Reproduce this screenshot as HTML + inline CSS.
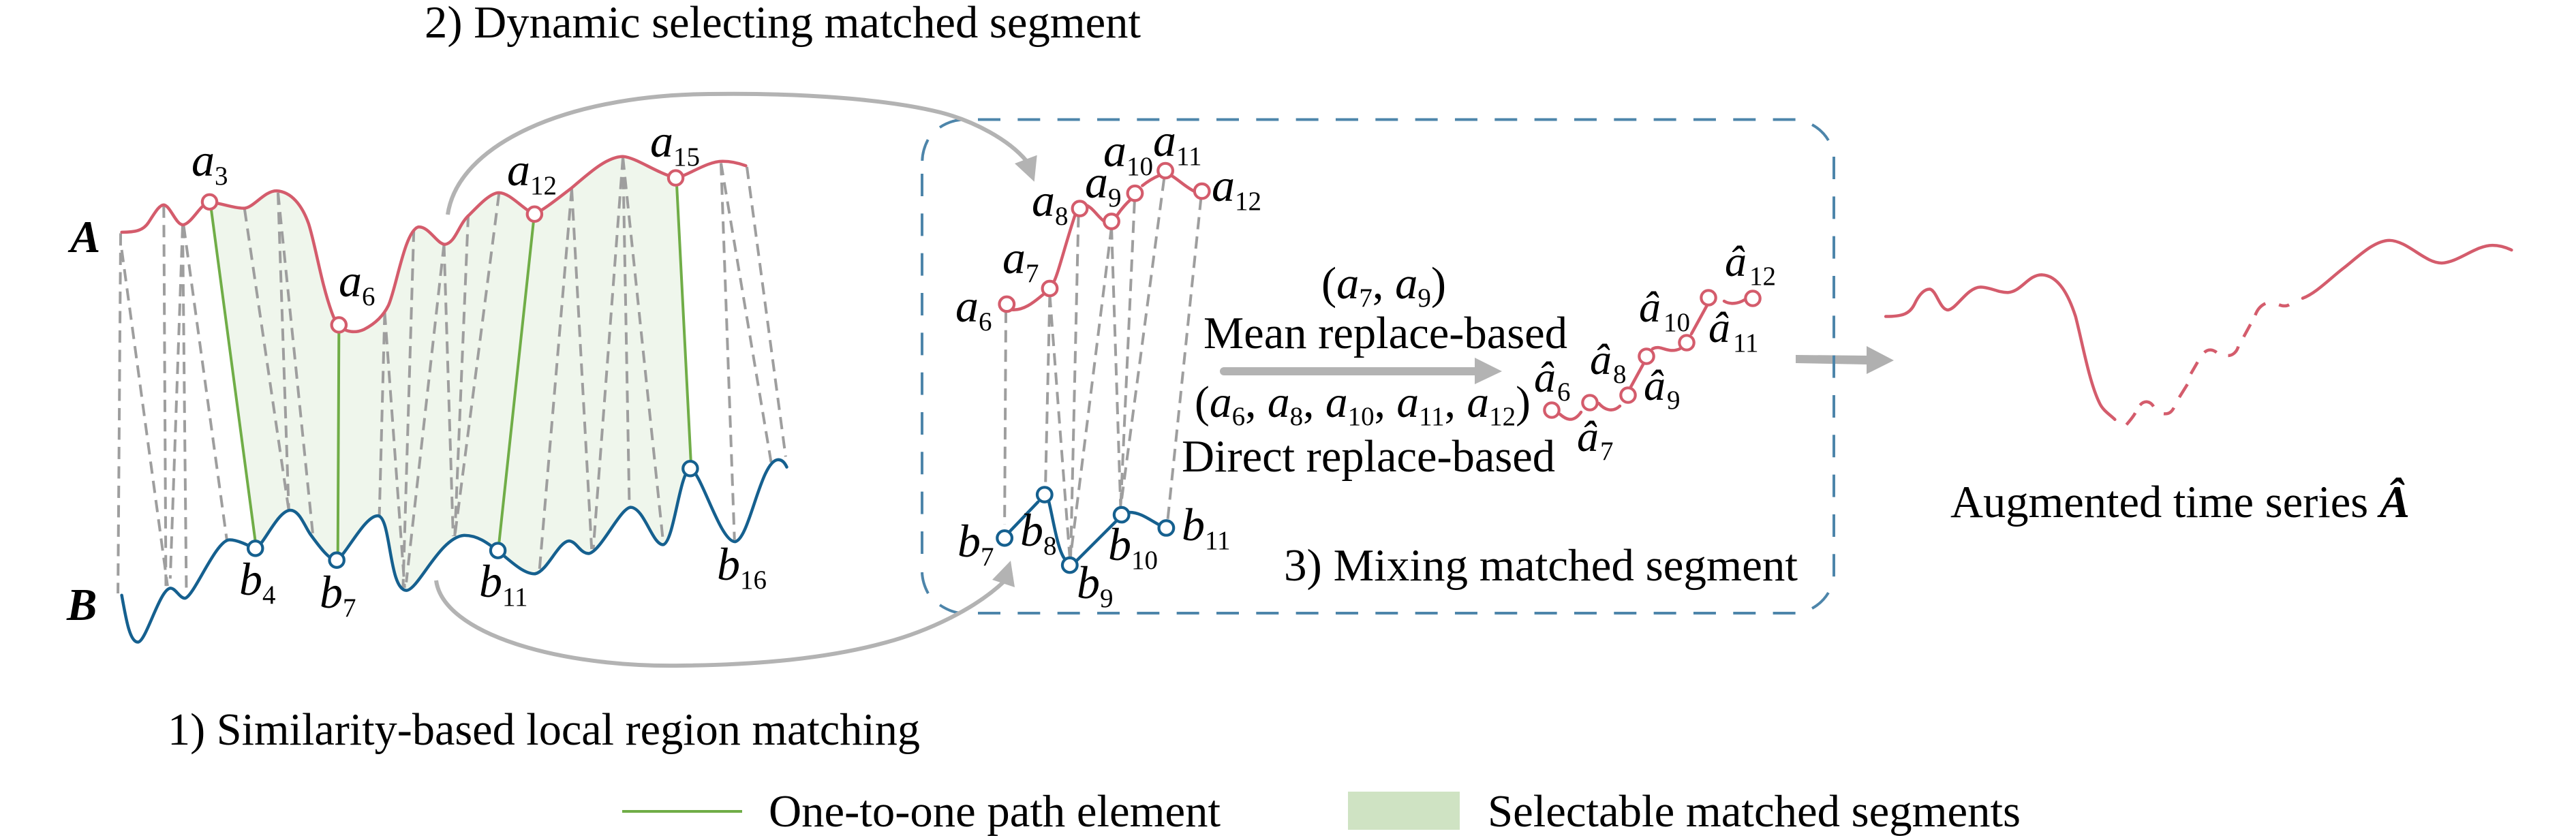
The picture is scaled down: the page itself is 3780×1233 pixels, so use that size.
<!DOCTYPE html>
<html><head><meta charset="utf-8"><style>
html,body{margin:0;padding:0;background:#fff;width:3780px;height:1233px;overflow:hidden}
svg{display:block}
text{font-family:"Liberation Serif",serif;fill:#000;font-size:66.5px}
.i{font-style:italic;font-size:68px}
.h{font-style:italic;font-size:64px}
.s{font-style:normal;font-size:39px}
.n{fill:#fff;stroke-width:4.2;vector-effect:non-scaling-stroke}
.m{fill:#fff;stroke-width:4.2}
.l{fill:none;stroke-width:4.5;stroke-linecap:round;vector-effect:non-scaling-stroke}
.d{fill:none;stroke:#9e9e9e;stroke-width:4;stroke-dasharray:18 10.5;vector-effect:non-scaling-stroke}
.g{fill:none;stroke:#70ad47;stroke-width:4;vector-effect:non-scaling-stroke}
.r{stroke:#d45c6c}.b{stroke:#15608f}
.box{fill:none;stroke:#4d85aa;stroke-width:4;stroke-dasharray:33 25.33}
.arc{fill:none;stroke:#b3b3b3;stroke-width:6}
</style></head><body>
<svg width="3780" height="1233" viewBox="0 0 3780 1233" xmlns="http://www.w3.org/2000/svg">

<!-- right thick arrow sits below the dashed box -->
<polygon fill="#b0b0b0" points="2635,521 2739,522 2739,508 2779,529 2739,549 2739,535 2635,533"/>

<!-- dashed box -->
<path class="box" d="M1435,175.5H2636"/>
<path class="box" d="M1435,900H2636"/>
<path class="box" d="M1353,255V814"/>
<path class="box" d="M2691,230V847"/>
<path class="box" style="stroke-dasharray:none" d="M1353.3,236C1353.5,224 1357,214 1361.7,205M1379,187C1388,181 1398,177 1410,175.7M1353,840C1353.5,852 1357,862 1362,871M1379,888C1388,894 1398,899 1410,900M2659,183C2670,189 2677,196 2683,206M2683,870C2677,880 2670,887 2659,893"/>

<!-- arcs -->
<path class="arc" d="M657,315C672,212 830,140 1040,138C1170,136 1300,145 1380,165C1430,178 1480,205 1506,236"/>
<polygon fill="#b3b3b3" points="1521.7,227.7 1489,240 1517.7,266.7"/>
<path class="arc" d="M640,852C650,930 820,980 1000,977C1120,976 1220,965 1300,943C1360,927 1430,895 1475,852"/>
<polygon fill="#b3b3b3" points="1483,823 1456,851 1489,862"/>

<!-- Left panel, crop coordinates -->
<g transform="translate(60,150) scale(.7908,.5421)">
<path fill="#eff6ec" d="M313,270C330,272 360,288 378,287C395,285 415,240 437,240C465,242 485,280 497,330C510,390 520,490 540,570C545,590 550,600 553,603C565,625 585,625 600,615C620,600 635,580 645,550C660,500 675,350 700,338C720,335 735,385 750,385C770,380 775,330 795,305C815,275 835,245 850,245C870,245 895,290 915,303C930,295 960,260 985,232C1015,195 1050,147 1080,147C1105,150 1140,190 1178,205L1205,992C1185,1000 1175,1190 1155,1198C1135,1200 1120,1100 1095,1097C1075,1097 1040,1215 1017,1222C1000,1222 995,1190 980,1188C960,1190 940,1270 917,1277C895,1278 870,1240 848,1215C830,1195 810,1172 785,1173C740,1178 700,1322 678,1322C645,1320 650,1120 625,1120C600,1120 565,1230 548,1240C535,1240 515,1200 500,1170C490,1150 480,1105 463,1105C440,1105 415,1195 398,1210Z"/>
<path class="d" d="M148,355L143,1330M150,400L235,1310M228,280L232,1310M263,335L240,1290M263,335L270,1330M265,335L345,1185M378,290L460,1105M440,245L460,1105M440,245L505,1175M638,570L628,1120M638,570L675,1315M692,345L672,1315M748,385L678,1300M748,385L765,1175M793,305L768,1175M850,248L768,1175M985,235L925,1270M985,235L1022,1210M1080,150L1025,1210M1080,150L1092,1095M1080,150L1155,1195M1262,165L1287,1185M1262,165L1355,975M1310,175L1382,960"/>
<path class="g" d="M316,290L398,1190M553,625L551,1220M914,325L850,1195M1180,228L1206,970"/>
<path class="l r" d="M150,352C175,352 190,348 200,325C212,298 220,278 228,278C240,280 250,330 263,332C275,332 290,295 300,282C305,275 310,272 313,270C330,272 360,288 378,287C395,285 415,240 437,240C465,242 485,280 497,330C510,390 520,490 540,570C545,590 550,600 553,603C565,625 585,625 600,615C620,600 635,580 645,550C660,500 675,350 700,338C720,335 735,385 750,385C770,380 775,330 795,305C815,275 835,245 850,245C870,245 895,290 915,303C930,295 960,260 985,232C1015,195 1050,147 1080,147C1105,150 1140,190 1178,205C1200,200 1235,160 1265,160C1280,160 1295,165 1308,172"/>
<path class="l b" d="M150,1335C158,1400 165,1462 180,1462C195,1462 220,1320 240,1316C250,1315 258,1345 268,1343C285,1335 325,1185 350,1185C365,1185 385,1200 398,1210C415,1195 440,1105 463,1105C480,1105 490,1150 500,1170C515,1200 535,1240 548,1240C565,1230 600,1120 625,1120C650,1120 645,1320 678,1322C700,1322 740,1178 785,1173C810,1172 830,1195 848,1215C870,1240 895,1278 917,1277C940,1270 960,1190 980,1188C995,1190 1000,1222 1017,1222C1040,1215 1075,1097 1095,1097C1120,1100 1135,1200 1155,1198C1175,1190 1185,1000 1205,992C1225,1000 1260,1190 1288,1190C1315,1185 1335,970 1368,968C1375,968 1380,975 1384,988"/>
<ellipse class="n r" cx="313" cy="270" rx="13.5" ry="19.7"/><ellipse class="n r" cx="553" cy="603" rx="13.5" ry="19.7"/><ellipse class="n r" cx="916" cy="303" rx="13.5" ry="19.7"/><ellipse class="n r" cx="1178" cy="205" rx="13.5" ry="19.7"/>
<ellipse class="n b" cx="398" cy="1208" rx="13.5" ry="19.7"/><ellipse class="n b" cx="549" cy="1240" rx="13.5" ry="19.7"/><ellipse class="n b" cx="848" cy="1214" rx="13.5" ry="19.7"/><ellipse class="n b" cx="1205" cy="992" rx="13.5" ry="19.7"/>
</g>

<!-- Middle panel -->
<g transform="translate(1300,150) scale(.6378,.5102)">
<path class="d" d="M276,600L273,1215M377,555L367,1105M377,555L423,1310M443,325L425,1310M519,360L425,1305M519,360L540,1165M572,285L540,1165M640,220L540,1165M725,275L648,1205"/>
<path class="l r" d="M290,597C320,600 345,570 365,550M385,520C395,500 410,420 435,325M458,295C475,300 490,335 505,345M532,325C540,310 550,295 563,280M590,240C600,230 615,218 630,210M658,212C675,225 690,245 712,258"/>
<path class="l b" d="M285,1235L350,1150M375,1150C385,1200 395,1290 412,1315M438,1320L530,1205M560,1180C585,1180 605,1200 630,1217"/>
<ellipse class="n r" cx="278" cy="581" rx="17" ry="21"/><ellipse class="n r" cx="377" cy="536" rx="17" ry="21"/><ellipse class="n r" cx="446" cy="306" rx="17" ry="21"/><ellipse class="n r" cx="519" cy="343" rx="17" ry="21"/><ellipse class="n r" cx="573" cy="262" rx="17" ry="21"/><ellipse class="n r" cx="643" cy="197" rx="17" ry="21"/><ellipse class="n r" cx="727" cy="256" rx="17" ry="21"/>
<ellipse class="n b" cx="273" cy="1254" rx="17" ry="21"/><ellipse class="n b" cx="365" cy="1129" rx="17" ry="21"/><ellipse class="n b" cx="423" cy="1332" rx="17" ry="21"/><ellipse class="n b" cx="542" cy="1187" rx="17" ry="21"/><ellipse class="n b" cx="645" cy="1225" rx="17" ry="21"/>
</g>

<!-- Mixed segment, real coordinates -->
<path class="l r" d="M2289,608C2297,615 2308,622 2320,605M2346,592C2353,600 2365,607 2377,596M2393,568L2411,535M2425,512C2437,505 2447,520 2465,512M2482,490L2505,448M2530,442C2540,448 2552,445 2560,440"/>
<circle class="m r" cx="2277" cy="602" r="10.7"/><circle class="m r" cx="2333" cy="591" r="10.7"/><circle class="m r" cx="2389" cy="580" r="10.7"/><circle class="m r" cx="2416" cy="523" r="10.7"/><circle class="m r" cx="2475" cy="503" r="10.7"/><circle class="m r" cx="2507" cy="437" r="10.7"/><circle class="m r" cx="2572" cy="438" r="10.7"/>

<!-- Augmented curve -->
<g transform="translate(2200,300) scale(.9949,.3827)">
<path class="l r" d="M570,430C595,430 605,420 612,385C620,340 628,325 635,325C645,330 650,405 662,405C675,400 690,318 710,317C725,318 735,338 750,338C770,335 780,270 800,270C825,272 840,350 850,430C860,530 870,680 885,760C890,790 900,805 908,825"/>
<path class="l r" style="stroke-linecap:butt" d="M925,845C930,830 935,815 938,800M945,770C952,750 960,755 965,775M980,803C988,805 992,795 995,780M1003,740L1015,690M1020,650L1030,605M1040,568C1045,555 1052,555 1058,568M1075,580C1082,580 1088,565 1090,545M1098,508L1108,460M1115,425C1118,405 1122,390 1130,380M1150,385C1155,390 1160,392 1165,385"/>
<path class="l r" d="M1185,360C1205,340 1225,285 1245,245C1265,205 1290,138 1313,138C1340,140 1365,225 1390,225C1415,222 1440,157 1465,157C1475,157 1485,165 1493,175"/>
</g>

<!-- middle thick arrow -->
<path d="M1796,545H2164" stroke="#b3b3b3" stroke-width="12" stroke-linecap="round" fill="none"/>
<polygon fill="#b3b3b3" points="2164,525 2204,545 2164,564"/>

<!-- legend -->
<rect x="913" y="1189" width="176" height="4" fill="#70ad47"/>
<rect x="1978" y="1162" width="164" height="56" fill="#cfe3c3"/>

<!-- plain text -->
<text x="623" y="55" textLength="1051" lengthAdjust="spacingAndGlyphs">2) Dynamic selecting matched segment</text>
<text x="246" y="1093" textLength="1104" lengthAdjust="spacingAndGlyphs">1) Similarity-based local region matching</text>
<text x="1128" y="1213" textLength="663" lengthAdjust="spacingAndGlyphs">One-to-one path element</text>
<text x="2183" y="1213" textLength="782" lengthAdjust="spacingAndGlyphs">Selectable matched segments</text>
<text x="1766" y="511" textLength="534" lengthAdjust="spacingAndGlyphs">Mean replace-based</text>
<text x="1734" y="692" textLength="548" lengthAdjust="spacingAndGlyphs">Direct replace-based</text>
<text x="1884" y="852" textLength="754" lengthAdjust="spacingAndGlyphs">3) Mixing matched segment</text>
<text x="2862" y="759">Augmented time series <tspan font-weight="bold" font-style="italic">Â</tspan></text>

<text x="103" y="370" font-weight="bold" font-style="italic">A</text>
<text x="98" y="910" font-weight="bold" font-style="italic">B</text>

<!-- formulas -->
<text x="1939" y="438">(<tspan font-style="italic">a</tspan><tspan class="s" dy="12">7</tspan><tspan dy="-12">, </tspan><tspan font-style="italic">a</tspan><tspan class="s" dy="12">9</tspan><tspan dy="-12">)</tspan></text>
<text x="1753" y="612" style="font-size:65.5px">(<tspan font-style="italic">a</tspan><tspan class="s" dy="12">6</tspan><tspan dy="-12">, </tspan><tspan font-style="italic">a</tspan><tspan class="s" dy="12">8</tspan><tspan dy="-12">, </tspan><tspan font-style="italic">a</tspan><tspan class="s" dy="12">10</tspan><tspan dy="-12">, </tspan><tspan font-style="italic">a</tspan><tspan class="s" dy="12">11</tspan><tspan dy="-12">, </tspan><tspan font-style="italic">a</tspan><tspan class="s" dy="12">12</tspan><tspan dy="-12">)</tspan></text>

<!-- node labels -->
<text class="i" x="281" y="258">a<tspan class="s" dy="13">3</tspan></text>
<text class="i" x="497" y="435">a<tspan class="s" dy="13">6</tspan></text>
<text class="i" x="744" y="272">a<tspan class="s" dy="13">12</tspan></text>
<text class="i" x="954" y="230">a<tspan class="s" dy="13">15</tspan></text>
<text class="i" x="351" y="873">b<tspan class="s" dy="13">4</tspan></text>
<text class="i" x="469" y="892">b<tspan class="s" dy="13">7</tspan></text>
<text class="i" x="703" y="876">b<tspan class="s" dy="13">11</tspan></text>
<text class="i" x="1052" y="851">b<tspan class="s" dy="13">16</tspan></text>

<text class="i" x="1402" y="472">a<tspan class="s" dy="13">6</tspan></text>
<text class="i" x="1471" y="401">a<tspan class="s" dy="13">7</tspan></text>
<text class="i" x="1514" y="317">a<tspan class="s" dy="13">8</tspan></text>
<text class="i" x="1592" y="290">a<tspan class="s" dy="13">9</tspan></text>
<text class="i" x="1619" y="244">a<tspan class="s" dy="13">10</tspan></text>
<text class="i" x="1692" y="229">a<tspan class="s" dy="13">11</tspan></text>
<text class="i" x="1778" y="295">a<tspan class="s" dy="13">12</tspan></text>
<text class="i" x="1405" y="817">b<tspan class="s" dy="13">7</tspan></text>
<text class="i" x="1497" y="801">b<tspan class="s" dy="13">8</tspan></text>
<text class="i" x="1580" y="878">b<tspan class="s" dy="13">9</tspan></text>
<text class="i" x="1626" y="822">b<tspan class="s" dy="13">10</tspan></text>
<text class="i" x="1734" y="793">b<tspan class="s" dy="13">11</tspan></text>

<text class="h" x="2251" y="575">â<tspan class="s" dy="13" dx="2">6</tspan></text>
<text class="h" x="2314" y="662">â<tspan class="s" dy="13" dx="2">7</tspan></text>
<text class="h" x="2333" y="549">â<tspan class="s" dy="13" dx="2">8</tspan></text>
<text class="h" x="2412" y="587">â<tspan class="s" dy="13" dx="2">9</tspan></text>
<text class="h" x="2405" y="472">â<tspan class="s" dy="14" dx="4">10</tspan></text>
<text class="h" x="2507" y="502">â<tspan class="s" dy="14" dx="4">11</tspan></text>
<text class="h" x="2531" y="405">â<tspan class="s" dy="13" dx="4">12</tspan></text>
</svg>
</body></html>
